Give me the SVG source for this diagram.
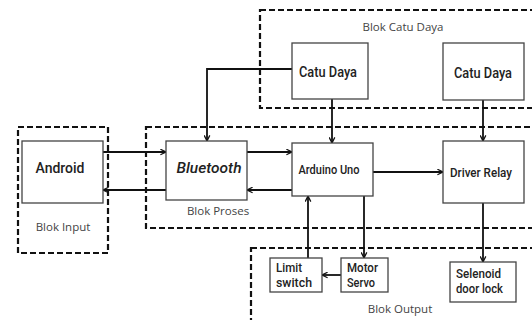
<svg xmlns="http://www.w3.org/2000/svg" width="532" height="320" viewBox="0 0 532 320">
<defs>
<marker id="arr" viewBox="0 0 10 10" refX="9" refY="5" markerWidth="7" markerHeight="7" orient="auto" markerUnits="userSpaceOnUse">
<path d="M1,1 L9,5 L1,9" fill="none" stroke="#111" stroke-width="1.8"/>
</marker>
<style>
.grp{fill:none;stroke:#111;stroke-width:2.2;stroke-dasharray:6,3}
.box{fill:#fff;stroke:#444;stroke-width:1.3}
.con{fill:none;stroke:#111;stroke-width:1.8;marker-end:url(#arr)}
.lbl{font-family:Roboto,"Liberation Sans",sans-serif;font-weight:500;fill:#222;text-anchor:middle}
.glbl{font-family:"Open Sans","Liberation Sans",sans-serif;font-size:11.5px;fill:#444;text-anchor:middle}
.ll{font-family:Roboto,"Liberation Sans",sans-serif;font-weight:500;fill:#222;font-size:12.5px}
</style>
</defs>
<rect width="532" height="320" fill="#fff"/>
<g id="groups">
<rect class="grp" x="260" y="10" width="290" height="98"/>
<rect class="grp" x="18" y="127" width="90" height="126"/>
<rect class="grp" x="146" y="127" width="400" height="101"/>
<rect class="grp" x="251" y="248" width="300" height="80"/>
<text class="glbl" x="403" y="31">Blok Catu Daya</text>
<text class="glbl" x="63" y="231">Blok Input</text>
<text class="glbl" x="218" y="215">Blok Proses</text>
<text class="glbl" x="400" y="313">Blok Output</text>
</g>
<g id="connectors">
<path class="con" d="M103,152 H166"/>
<path class="con" d="M166,190 H103"/>
<path class="con" d="M247,152 H292"/>
<path class="con" d="M292,190 H247"/>
<path class="con" d="M373,172 H443"/>
<path class="con" d="M292,69 H207 V141"/>
<path class="con" d="M332,99 V143"/>
<path class="con" d="M483,100 V141"/>
<path class="con" d="M308,258 V196"/>
<path class="con" d="M364,196 V258"/>
<path class="con" d="M341,275 H322"/>
<path class="con" d="M483,203 V262"/>
</g>
<g id="catu1"><rect class="box" x="292" y="43" width="76" height="56"/><text class="lbl" x="328" y="77" font-size="14.5" textLength="58" lengthAdjust="spacingAndGlyphs">Catu Daya</text></g>
<g id="catu2"><rect class="box" x="443" y="43" width="81" height="57"/><text class="lbl" x="483" y="78" font-size="14.5" textLength="58" lengthAdjust="spacingAndGlyphs">Catu Daya</text></g>
<g id="android"><rect class="box" x="22" y="141" width="81" height="62"/><text class="lbl" x="60" y="173" font-size="15" textLength="49" lengthAdjust="spacingAndGlyphs">Android</text></g>
<g id="bluetooth"><rect class="box" x="166" y="141" width="81" height="59"/><text class="lbl" x="209" y="173" font-size="15" font-style="italic" textLength="65" lengthAdjust="spacingAndGlyphs">Bluetooth</text></g>
<g id="arduino"><rect class="box" x="292" y="143" width="81" height="53"/><text class="lbl" x="329" y="174" font-size="12.5" textLength="61" lengthAdjust="spacingAndGlyphs">Arduino Uno</text></g>
<g id="relay"><rect class="box" x="443" y="141" width="81" height="62"/><text class="lbl" x="481" y="177" font-size="13.5" textLength="62" lengthAdjust="spacingAndGlyphs">Driver Relay</text></g>
<g id="limit"><rect class="box" x="270" y="258" width="52" height="34"/><text class="ll" x="276" y="272" textLength="26" lengthAdjust="spacingAndGlyphs">Limit</text><text class="ll" x="276" y="287" textLength="36" lengthAdjust="spacingAndGlyphs">switch</text></g>
<g id="servo"><rect class="box" x="341" y="258" width="47" height="34"/><text class="ll" x="347" y="272" textLength="31" lengthAdjust="spacingAndGlyphs">Motor</text><text class="ll" x="347" y="287" textLength="28" lengthAdjust="spacingAndGlyphs">Servo</text></g>
<g id="selenoid"><rect class="box" x="450" y="262" width="66" height="40"/><text class="ll" x="456" y="278" textLength="45" lengthAdjust="spacingAndGlyphs">Selenoid</text><text class="ll" x="456" y="293" textLength="47" lengthAdjust="spacingAndGlyphs">door lock</text></g>
</svg>
